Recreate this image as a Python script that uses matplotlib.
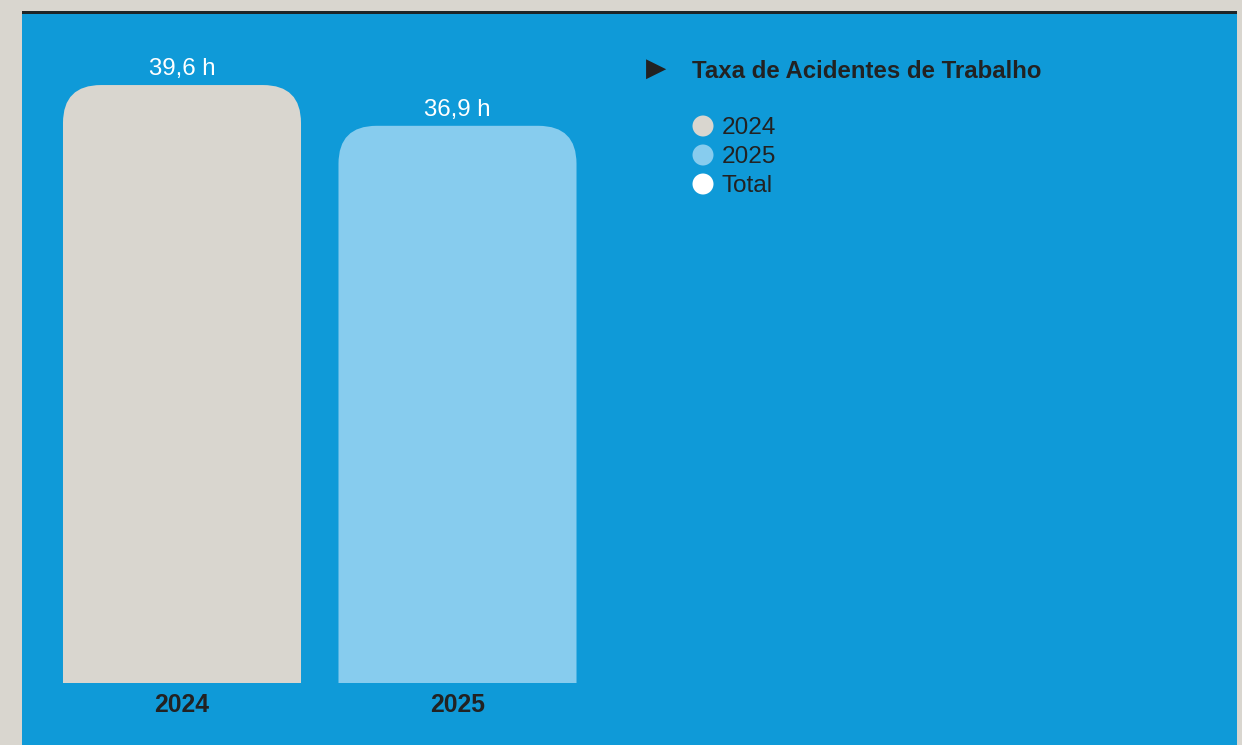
import matplotlib.pyplot as plt
from matplotlib.patches import FancyBboxPatch, Rectangle, Circle

plt.rcParams["font.family"] = ["Liberation Sans", "DejaVu Sans"]

# data
years = ["2024", "2025"]
values = [39.6, 36.9]
value_labels = ["39,6 h", "36,9 h"]
legend_title = "Taxa de Acidentes de Trabalho"
legend_labels = ["2024", "2025", "Total"]

bg_grey = "#d9d6cf"
panel_blue = "#0f9ad8"
light_blue = "#87ccee"
dark = "#222222"
bar_colors = [bg_grey, light_blue]
legend_colors = [bg_grey, light_blue, "#ffffff"]

W, H = 1242, 745
fig = plt.figure(figsize=(W / 100, H / 100), dpi=100, facecolor=bg_grey)

# background layer in pixel coords
bg = fig.add_axes([0, 0, 1, 1])
bg.set_xlim(0, W)
bg.set_ylim(H, 0)
bg.axis("off")
bg.add_patch(Rectangle((22, 13), 1215, H - 13, facecolor=panel_blue, edgecolor="none"))
bg.add_patch(Rectangle((22, 10.5), 1215, 3.5, facecolor="#1e2528", edgecolor="none"))

# legend block
bg.text(646, 69, "\u25B6", color=dark, fontsize=19, va="center", ha="left",
        family=["DejaVu Sans"])
bg.text(692, 71, legend_title, color=dark, fontsize=17.3, fontweight="bold",
        va="center", ha="left")
for i, (lab, col) in enumerate(zip(legend_labels, legend_colors)):
    y = 126 + i * 29
    bg.add_patch(Circle((703, y), 10.5, facecolor=col, edgecolor="none"))
    bg.text(722, y + 2, lab, color=dark, fontsize=17.6, va="center", ha="left")

# bars axes: baseline at y=683 px, x centers at 182 / 457.5 px
left_px, right_px = 44.25, 595.25
bottom_px, top_px = 683, 30
ax = fig.add_axes([left_px / W, (H - bottom_px) / H,
                   (right_px - left_px) / W, (bottom_px - top_px) / H])
ax.set_facecolor("none")
ax.set_xlim(-0.5, 1.5)
ax.set_ylim(0, (bottom_px - top_px) / 15.1)
ax.axis("off")

bar_w = 0.864
bars = ax.bar(range(len(values)), values, width=bar_w, color="none")

# pixels per data unit, to keep corners round
px_x = (right_px - left_px) / 2.0
px_y = (bottom_px - top_px) / ax.get_ylim()[1]
radius_px = 38
for b, col in zip(bars, bar_colors):
    x0 = b.get_x()
    h = b.get_height()
    r = radius_px / px_x
    patch = FancyBboxPatch((x0 + r, -5), bar_w - 2 * r, h + 5 - radius_px / px_y,
                           boxstyle=f"round,pad={r},rounding_size={r}",
                           mutation_aspect=px_x / px_y,
                           facecolor=col, edgecolor="none", clip_on=True)
    ax.add_patch(patch)
    patch.set_clip_box(ax.bbox)

for i, (v, lab) in enumerate(zip(values, value_labels)):
    ax.text(i, v + 16 / px_y, lab, color="white", fontsize=17.3,
            ha="center", va="center")
    ax.text(i, -22 / px_y, years[i], color=dark, fontsize=17.8,
            fontweight="bold", ha="center", va="center", clip_on=False)

fig.savefig("out.png", dpi=100, facecolor=bg_grey)
